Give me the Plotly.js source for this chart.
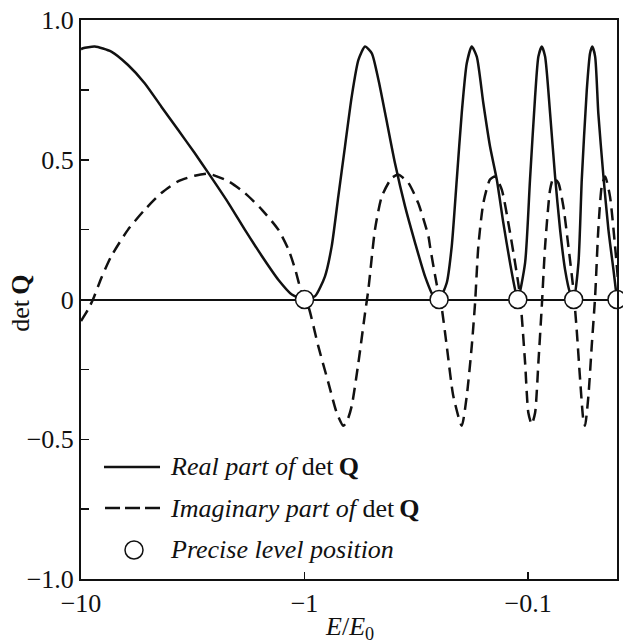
<!DOCTYPE html>
<html>
<head>
<meta charset="utf-8">
<script src="https://cdn.plot.ly/plotly-3.0.1.min.js"></script>
<style>html,body{margin:0;padding:0;background:#fff;}#chart{width:623px;height:644px;}</style>
</head>
<body>
<div id="chart"></div>
<script>
// Energy E/E0 (negative)
const realE = [-10, -9.80, -8.68, -7.32, -6.16, -5.19, -4.37, -3.68, -3.10, -2.69, -2.19, -1.85, -1.55, -1.31, -1.14, -1.0,
  -0.897, -0.810, -0.756, -0.706, -0.659, -0.615, -0.574, -0.536, -0.500, -0.467, -0.436, -0.394, -0.355, -0.320, -0.289, -0.265, -0.25,
  -0.231, -0.2195, -0.2084, -0.198, -0.188, -0.1786, -0.1696, -0.1585, -0.148, -0.138, -0.129, -0.1204, -0.1143, -0.1111,
  -0.1031, -0.098, -0.093, -0.0899, -0.0868, -0.0839, -0.0797, -0.0757, -0.0719, -0.0683, -0.0649, -0.0625,
  -0.0595, -0.0575, -0.0546, -0.0528, -0.0516, -0.0501, -0.0485, -0.046, -0.0437, -0.0415, -0.04];
const realV = [0.895, 0.899, 0.905, 0.887, 0.839, 0.774, 0.69, 0.607, 0.524, 0.452, 0.345, 0.25, 0.155, 0.071, 0.018, 0,
  0.012, 0.083, 0.19, 0.369, 0.548, 0.726, 0.857, 0.905, 0.881, 0.786, 0.667, 0.488, 0.333, 0.202, 0.083, 0.012, 0,
  0.06, 0.19, 0.429, 0.667, 0.845, 0.905, 0.869, 0.702, 0.548, 0.429, 0.274, 0.131, 0.036, 0,
  0.131, 0.429, 0.726, 0.869, 0.905, 0.869, 0.667, 0.44, 0.25, 0.107, 0.024, 0,
  0.131, 0.429, 0.75, 0.881, 0.905, 0.869, 0.667, 0.44, 0.25, 0.107, 0];

const imagE = [-10, -9.30, -8.84, -8.11, -7.32, -6.16, -5.19, -4.37, -3.68, -3.10, -2.69, -2.19, -1.85, -1.55, -1.31, -1.18, -1.10, -1.03,
  -0.962, -0.868, -0.782, -0.718, -0.671, -0.645, -0.615, -0.574, -0.536, -0.518, -0.484, -0.451, -0.407, -0.380, -0.343, -0.310, -0.279, -0.2745,
  -0.257, -0.244, -0.231, -0.216, -0.198, -0.188, -0.1786, -0.1726, -0.1669, -0.1585, -0.148, -0.1405, -0.1311, -0.1225, -0.1143, -0.1086,
  -0.1031, -0.0997, -0.0963, -0.0930, -0.0899, -0.0868, -0.0839, -0.0797, -0.0770, -0.0732, -0.0695, -0.0660, -0.0627,
  -0.0606, -0.0585, -0.0566, -0.0556, -0.0537, -0.0519, -0.0501, -0.0485, -0.0468, -0.0452, -0.0430, -0.0408, -0.0395];
const imagV = [-0.077, -0.036, 0, 0.077, 0.155, 0.25, 0.321, 0.381, 0.423, 0.443, 0.45, 0.423, 0.381, 0.321, 0.25, 0.179, 0.107, 0.024,
  -0.024, -0.167, -0.298, -0.405, -0.452, -0.435, -0.381, -0.226, -0.048, 0.036, 0.25, 0.369, 0.435, 0.446, 0.417, 0.345, 0.226, 0.19,
  0.06, -0.024, -0.167, -0.345, -0.452, -0.345, -0.167, -0.012, 0.19, 0.345, 0.429, 0.44, 0.393, 0.274, 0.131, 0.012,
  -0.226, -0.405, -0.446, -0.405, -0.226, -0.024, 0.19, 0.393, 0.435, 0.417, 0.333, 0.19, 0.036,
  -0.107, -0.286, -0.429, -0.452, -0.345, -0.167, 0.012, 0.25, 0.405, 0.44, 0.369, 0.19, 0.06];

const levelE = [-1, -0.25, -0.1111, -0.0625, -0.04];
const levelV = [0, 0, 0, 0, 0];

const xTickVals = [-10, -1, -0.1];
const xTickText = ['\u221210', '\u22121', '\u22120.1'];
const yTickVals = [-1, -0.5, 0, 0.5, 1];
const yTickText = ['\u22121.0', '\u22120.5', '0', '0.5', '1.0'];
const yMinorVals = [-0.75, -0.25, 0.25, 0.75];

const legendLabels = ['<i>Real part of</i> det\u2009<b>Q</b>', '<i>Imaginary part of</i> det\u2009<b>Q</b>', '<i>Precise level position</i>'];

const mag = a => a.map(v => -v);
const serif = 'Liberation Serif, Times New Roman, serif';
const ink = '#111';

const traces = [
  {x: mag(realE), y: realV, mode: 'lines', name: legendLabels[0], showlegend: false,
   line: {color: ink, width: 2.5, shape: 'spline', smoothing: 0.6}},
  {x: mag(imagE), y: imagV, mode: 'lines', name: legendLabels[1], showlegend: false,
   line: {color: ink, width: 2.5, dash: '12px,7px', shape: 'spline', smoothing: 0.6}},
  {x: mag(levelE), y: levelV, mode: 'markers', name: legendLabels[2], showlegend: false, cliponaxis: false,
   marker: {symbol: 'circle', size: 18, color: '#fff', line: {color: ink, width: 1.5}}}
];

// legend drawn by hand (paper coordinates)
const rowY = [0.2004, 0.1270, 0.0519];
const shapes = [
  {type: 'line', xref: 'paper', yref: 'paper', x0: 0.0429, x1: 0.1474, y0: rowY[0], y1: rowY[0], line: {color: ink, width: 2.5}},
  {type: 'line', xref: 'paper', yref: 'paper', x0: 0.0448, x1: 0.1474, y0: rowY[1], y1: rowY[1], line: {color: ink, width: 2.5, dash: '15px,5px'}},
  {type: 'circle', xref: 'paper', yref: 'paper', x0: 0.0821, x1: 0.1157, y0: rowY[2] - 0.0161, y1: rowY[2] + 0.0161,
   line: {color: ink, width: 1.5}, fillcolor: '#fff'}
];
const annotations = legendLabels.map((t, i) => ({text: t, xref: 'paper', yref: 'paper', x: 0.1623, y: rowY[i],
  xanchor: 'left', yanchor: 'middle', showarrow: false, font: {family: serif, size: 26, color: ink}}));
annotations.push(
  {text: 'det\u2009<b>Q</b>', xref: 'paper', yref: 'paper', x: -0.112, y: 0.494, textangle: -90,
   xanchor: 'center', yanchor: 'middle', showarrow: false, font: {family: serif, size: 26, color: ink}},
  {text: '<i>E</i>/<i>E</i><sub>0</sub>', xref: 'paper', yref: 'paper', x: 0.5, y: -0.087,
   xanchor: 'center', yanchor: 'middle', showarrow: false, font: {family: serif, size: 26, color: ink}}
);

const layout = {
  width: 623, height: 644,
  margin: {l: 81, r: 6, t: 20, b: 65},
  paper_bgcolor: '#fff', plot_bgcolor: '#fff',
  font: {family: serif, size: 26, color: ink},
  showlegend: false,
  xaxis: {type: 'log', range: [1, Math.log10(0.04)], showgrid: false, zeroline: false,
    showline: true, linecolor: ink, linewidth: 2, mirror: true,
    ticks: 'inside', ticklen: 7, tickwidth: 1.5, tickcolor: ink,
    tickmode: 'array', tickvals: mag(xTickVals), ticktext: xTickText, tickfont: {family: serif, size: 26, color: ink}},
  yaxis: {range: [-1, 1], showgrid: false, zeroline: true, zerolinecolor: ink, zerolinewidth: 2,
    showline: true, linecolor: ink, linewidth: 2, mirror: true,
    ticks: 'inside', ticklen: 8, tickwidth: 1.5, tickcolor: ink,
    tickmode: 'array', tickvals: yTickVals, ticktext: yTickText, tickfont: {family: serif, size: 26, color: ink},
    minor: {tickmode: 'array', tickvals: yMinorVals, ticks: 'inside', ticklen: 8, tickwidth: 1.5, tickcolor: ink, showgrid: false}},
  shapes: shapes,
  annotations: annotations
};

Plotly.newPlot('chart', traces, layout, {displayModeBar: false, staticPlot: true});
</script>
</body>
</html>
